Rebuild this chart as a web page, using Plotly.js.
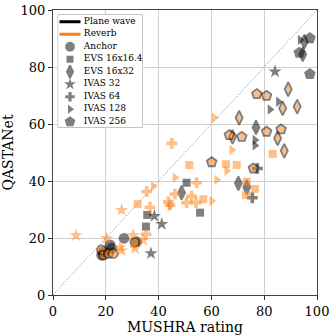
<!DOCTYPE html>
<html>
<head>
<meta charset="utf-8">
<script src="https://cdn.plot.ly/plotly-3.0.1.min.js"></script>
<style>html,body{margin:0;padding:0;background:#fff;}#chart{width:336px;height:336px;}</style>
</head>
<body>
<div id="chart"></div>
<script>
// ---- Data (MUSHRA rating = x, QASTANet = y) ----
// Plane wave
const pwAnchorX = [19.1, 21.6, 22.2, 26.9, 31.7, 18.4];
const pwAnchorY = [15.2, 17.6, 16.4, 19.9, 18.7, 14.0];
const pwEvs164X = [50.6, 35.7, 35.2, 55.7];
const pwEvs164Y = [39.4, 28.1, 24.0, 28.9];
const pwEvs32X = [48.7, 70.2, 73.4, 95.2, 94.6, 76.9];
const pwEvs32Y = [35.9, 39.2, 37.8, 88.9, 84.4, 58.8];
const pwIvas32X = [38.4, 41.2, 37.1, 84.1];
const pwIvas32Y = [27.7, 24.9, 14.6, 78.4];
const pwIvas64X = [75.5, 77.4];
const pwIvas64Y = [34.1, 44.4];
const pwIvas128X = [85.4, 82.2, 76.5, 76.5, 93.6];
const pwIvas128Y = [67.8, 65.1, 54.4, 52.5, 89.5];
const pwIvas256X = [97.3, 97.3, 93.3];
const pwIvas256Y = [90.1, 77.5, 85.0];
// Reverb
const rvAnchorX = [18.4, 19.1, 21.0, 22.8, 31.0];
const rvAnchorY = [15.8, 14.0, 14.6, 14.6, 18.5];
const rvEvs164X = [51.6, 32.1, 65.5, 69.6, 83.2, 73.4, 76.5, 73.1, 56.9];
const rvEvs164Y = [45.6, 31.9, 45.9, 45.6, 49.5, 39.8, 37.2, 35.1, 33.6];
const rvEvs32X = [68.0, 70.5, 87.0, 92.5, 89.1, 85.1, 87.6];
const rvEvs32Y = [55.5, 62.2, 65.5, 66.1, 72.2, 55.0, 50.6];
const rvIvas32X = [26.0, 8.7, 20.3, 30.4, 34.2, 25.4, 26.0, 31.1];
const rvIvas32Y = [29.8, 20.9, 19.9, 21.0, 19.3, 16.7, 15.6, 16.4];
const rvIvas64X = [45.0, 35.5, 46.2, 36.7, 43.7, 50.6, 35.2, 54.4, 52.5, 54.2, 44.3];
const rvIvas64Y = [53.2, 36.3, 35.4, 30.8, 32.7, 32.4, 21.3, 39.4, 34.7, 32.4, 31.6];
const rvIvas128X = [46.2, 38.0, 44.3, 67.7, 65.8, 62.0, 60.1, 61.0];
const rvIvas128Y = [41.2, 38.2, 31.2, 50.9, 43.6, 40.4, 33.0, 62.3];
const rvIvas256X = [66.8, 71.5, 60.1, 75.9, 77.2, 80.9, 80.9, 86.4];
const rvIvas256Y = [56.1, 55.5, 46.6, 44.4, 70.5, 69.9, 57.3, 58.1];

const identity = [0, 100];

const conditions = ['Anchor', 'EVS 16x16.4', 'EVS 16x32', 'IVAS 32', 'IVAS 64', 'IVAS 128', 'IVAS 256'];
const symbols = ['circle', 'square', 'diamond-tall', 'star', 'cross', 'triangle-right', 'pentagon'];
const edged = [true, false, true, false, false, false, true];
const sizes = [9, 8, 10, 10, 9, 9, 10];
const groups = ['Plane wave', 'Reverb'];

const pwX = [pwAnchorX, pwEvs164X, pwEvs32X, pwIvas32X, pwIvas64X, pwIvas128X, pwIvas256X];
const pwY = [pwAnchorY, pwEvs164Y, pwEvs32Y, pwIvas32Y, pwIvas64Y, pwIvas128Y, pwIvas256Y];
const rvX = [rvAnchorX, rvEvs164X, rvEvs32X, rvIvas32X, rvIvas64X, rvIvas128X, rvIvas256X];
const rvY = [rvAnchorY, rvEvs164Y, rvEvs32Y, rvIvas32Y, rvIvas64Y, rvIvas128Y, rvIvas256Y];

const BLACK = 'rgb(0,0,0)';
const ORANGE = 'rgb(255,127,14)';
const groupColors = [BLACK, ORANGE];

const traces = [];
traces.push({x: identity, y: identity, mode: 'lines', line: {color: '#777', width: 1, dash: '1px,2px'},
  showlegend: false, hoverinfo: 'skip'});

function addGroup(xs, ys, color) {
  for (let i = 0; i < conditions.length; i++) {
    traces.push({
      x: xs[i], y: ys[i], mode: 'markers', showlegend: false, name: conditions[i],
      marker: {symbol: symbols[i], size: sizes[i], color: color, opacity: 0.5,
        line: {color: BLACK, width: edged[i] ? 1.8 : 0}}
    });
  }
}
addGroup(pwX, pwY, BLACK);
addGroup(rvX, rvY, ORANGE);

// ---- custom legend drawn in a small hidden subplot (x2/y2) ----
const legendLabels = groups.concat(conditions);
const legendRows = legendLabels.map((_, i) => i);
const legendYRange = [8.5, -0.62];
const legendBoxX = [0.005, 0.995, 0.995, 0.005, 0.005];
const legendBoxY = [8.46, 8.46, -0.58, -0.58, 8.46];
const legendSymbolCol = legendLabels.map(() => 0.148);
const legendTextCol = legendLabels.map(() => 0.31);
const legendSymbols = ['line-ew', 'line-ew'].concat(symbols);
const legendSizes = [15, 15].concat(sizes.map(s => s - 1));
const legendFill = groupColors.concat(conditions.map(() => BLACK));
const legendLineColor = groupColors.concat(conditions.map(() => BLACK));
const legendLineWidth = [3, 3].concat(edged.map(e => e ? 1.8 : 0));
const legendOpacity = [1, 1].concat(conditions.map(() => 0.5));

const font = 'DejaVu Serif, serif';

// legend frame
traces.push({
  x: legendBoxX, y: legendBoxY, xaxis: 'x2', yaxis: 'y2', mode: 'lines', fill: 'toself',
  fillcolor: 'rgba(255,255,255,0.85)', line: {color: '#c4c4c4', width: 1},
  showlegend: false, hoverinfo: 'skip'
});
traces.push({
  x: legendSymbolCol, y: legendRows, xaxis: 'x2', yaxis: 'y2', mode: 'markers', showlegend: false,
  hoverinfo: 'skip', cliponaxis: false,
  marker: {symbol: legendSymbols, size: legendSizes, color: legendFill, opacity: legendOpacity,
    line: {color: legendLineColor, width: legendLineWidth}}
});
traces.push({
  x: legendTextCol, y: legendRows, xaxis: 'x2', yaxis: 'y2', mode: 'text', showlegend: false,
  hoverinfo: 'skip', cliponaxis: false, text: legendLabels, textposition: 'middle right',
  textfont: {family: font, size: 9, color: '#000'}
});

const axisCommon = {
  range: [0, 100], dtick: 20, tick0: 0, ticks: 'outside', ticklen: 4, tickcolor: '#333',
  showline: true, mirror: true, linecolor: '#444', linewidth: 1,
  showgrid: true, gridcolor: '#d0d0d0', gridwidth: 1, zeroline: false,
  tickfont: {family: font, size: 13, color: '#000'}, fixedrange: true
};

const layout = {
  width: 336, height: 336,
  margin: {l: 53, r: 19, t: 10, b: 41},
  paper_bgcolor: '#fff', plot_bgcolor: '#fff',
  font: {family: font, color: '#000'},
  showlegend: false,
  xaxis: Object.assign({}, axisCommon, {domain: [0, 1], title: {text: 'MUSHRA rating', font: {family: font, size: 14}, standoff: 1}}),
  yaxis: Object.assign({}, axisCommon, {domain: [0, 1], title: {text: 'QASTANet', font: {family: font, size: 14}, standoff: 6}}),
  xaxis2: {domain: [0.0163, 0.341], range: [0, 1], visible: false, anchor: 'y2', fixedrange: true},
  yaxis2: {domain: [0.586, 0.986], range: legendYRange, visible: false, anchor: 'x2', fixedrange: true}
};

Plotly.newPlot('chart', traces, layout, {displayModeBar: false, staticPlot: true});
</script>
</body>
</html>
